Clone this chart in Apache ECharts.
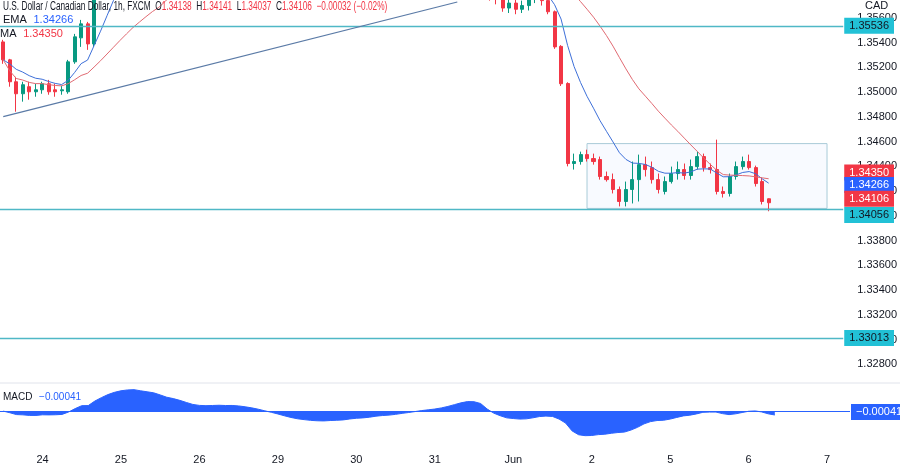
<!DOCTYPE html>
<html>
<head>
<meta charset="utf-8">
<script src="https://cdn.jsdelivr.net/npm/echarts@6/dist/echarts.min.js"></script>
<style>
  html, body { margin: 0; padding: 0; background: #fff; }
  #chart { width: 900px; height: 465px; }
</style>
</head>
<body>
<div id="chart"></div>
<script>
// 2-hour bars, 12 per trading day, first day starts at 12:00
const days = ['23', '24', '25', '26', '29', '30', '31', 'Jun', '2', '5', '6', '7']
const barCount = 130

// visible candles on the left: [open, close, low, high]
const leftBars = [
  [1.35406, 1.35261, 1.35229, 1.35423],
  [1.35261, 1.35084, 1.35044, 1.35269],
  [1.35084, 1.34987, 1.34842, 1.35124],
  [1.34987, 1.35060, 1.34923, 1.35084],
  [1.35044, 1.35003, 1.34939, 1.35084],
  [1.35003, 1.35019, 1.34963, 1.35068],
  [1.35019, 1.35068, 1.34987, 1.35084],
  [1.35068, 1.35003, 1.34979, 1.35099],
  [1.35019, 1.35003, 1.34963, 1.35068],
  [1.35011, 1.35019, 1.34979, 1.35052],
  [1.35003, 1.35245, 1.34987, 1.35261],
  [1.35245, 1.35447, 1.35229, 1.35471],
  [1.35439, 1.35552, 1.35366, 1.35584],
  [1.35552, 1.35390, 1.35342, 1.35568],
  [1.35390, 1.35900, 1.35366, 1.35950]
]

// closes above the visible range (24 May evening - 31 May)
const hiddenCloses = [
  1.3602, 1.3618, 1.3630,
  1.3640, 1.3648, 1.3655, 1.3650, 1.3656, 1.3660, 1.3652, 1.3648, 1.3655, 1.3650, 1.3644, 1.3640,
  1.3646, 1.3652, 1.3658, 1.3662, 1.3660, 1.3665, 1.3662, 1.3658, 1.3654, 1.3648, 1.3640, 1.3635,
  1.3626, 1.3616, 1.3608, 1.3602, 1.3598, 1.3592, 1.3588, 1.3585, 1.3586, 1.3582, 1.3580, 1.3584,
  1.3582, 1.3578, 1.3580, 1.3584, 1.3582, 1.3580, 1.3584, 1.3588, 1.3590, 1.3594, 1.3598, 1.3600,
  1.3604, 1.3612, 1.3622, 1.3634, 1.3644, 1.3650, 1.3644, 1.3630
]

// visible candles on the right: [open, close, low, high]
const rightBars = [
  [1.35900, 1.35850, 1.35800, 1.35950],
  [1.35850, 1.35780, 1.35740, 1.35900],
  [1.35780, 1.35760, 1.35710, 1.35820],
  [1.35760, 1.35680, 1.35650, 1.35800],
  [1.35680, 1.35720, 1.35640, 1.35750],
  [1.35720, 1.35670, 1.35630, 1.35760],
  [1.35670, 1.35700, 1.35640, 1.35740],
  [1.35700, 1.35760, 1.35660, 1.35800],
  [1.35760, 1.35800, 1.35720, 1.35880],
  [1.35800, 1.35740, 1.35700, 1.35840],
  [1.35740, 1.35650, 1.35630, 1.35780],
  [1.35650, 1.35366, 1.35350, 1.35660],
  [1.35370, 1.35068, 1.35050, 1.35380],
  [1.35070, 1.34423, 1.34400, 1.35080],
  [1.34423, 1.34439, 1.34374, 1.34503],
  [1.34439, 1.34495, 1.34414, 1.34519],
  [1.34495, 1.34463, 1.34439, 1.34535],
  [1.34463, 1.34439, 1.34414, 1.34503],
  [1.34455, 1.34318, 1.34293, 1.34479],
  [1.34318, 1.34293, 1.34277, 1.34358],
  [1.34293, 1.34213, 1.34181, 1.34342],
  [1.34213, 1.34116, 1.34076, 1.34237],
  [1.34116, 1.34213, 1.34076, 1.34277],
  [1.34213, 1.34293, 1.34100, 1.34439],
  [1.34293, 1.34414, 1.34116, 1.34495],
  [1.34414, 1.34374, 1.34318, 1.34479],
  [1.34390, 1.34293, 1.34261, 1.34439],
  [1.34293, 1.34213, 1.34181, 1.34342],
  [1.34197, 1.34277, 1.34173, 1.34318],
  [1.34277, 1.34342, 1.34261, 1.34398],
  [1.34342, 1.34374, 1.34293, 1.34439],
  [1.34374, 1.34326, 1.34293, 1.34423],
  [1.34326, 1.34398, 1.34293, 1.34455],
  [1.34398, 1.34479, 1.34374, 1.34519],
  [1.34479, 1.34390, 1.34358, 1.34503],
  [1.34390, 1.34374, 1.34342, 1.34423],
  [1.34374, 1.34197, 1.34173, 1.34616],
  [1.34197, 1.34181, 1.34148, 1.34237],
  [1.34181, 1.34318, 1.34156, 1.34342],
  [1.34318, 1.34398, 1.34293, 1.34439],
  [1.34398, 1.34439, 1.34374, 1.34479],
  [1.34439, 1.34390, 1.34374, 1.34495],
  [1.34390, 1.34261, 1.34237, 1.34406],
  [1.34277, 1.34116, 1.34092, 1.34310],
  [1.34138, 1.34106, 1.34037, 1.34141]
]

const levels = [1.35536, 1.34056, 1.33013]
const lastEma = 1.34266
const lastMa = 1.34350
const lastClose = 1.34106
const lastMacd = -0.00041
const priceTicks = { min: 1.326, max: 1.35745, interval: 0.002 }

const categories = []
for (let i = 0; i < barCount; i++) {
  const k = i + 6
  categories.push(days[Math.floor(k / 12)] + ' ' + String((k % 12) * 2).padStart(2, '0') + ':00')
}

// hidden candles: open at previous close
const hiddenBars = []
let prev = leftBars[leftBars.length - 1][1]
hiddenCloses.forEach(c => {
  hiddenBars.push([prev, c, Math.min(prev, c) - 0.0003, Math.max(prev, c) + 0.0003])
  prev = c
})
const candles = leftBars.concat(hiddenBars, rightBars)
const closes = candles.map(d => d[1])

function ema(arr, n) {
  const k = 2 / (n + 1)
  let e = arr[0]
  return arr.map(v => (e = v * k + e * (1 - k)))
}
function sma(arr, n) {
  return arr.map((v, i) => {
    const s = arr.slice(Math.max(0, i - n + 1), i + 1)
    return s.reduce((a, b) => a + b, 0) / s.length
  })
}
const emaLine = ema(closes, 10)
const maLine = sma(closes, 25)
const fast = ema(closes, 6), slow = ema(closes, 13)
const macd = fast.map((v, i) => v - slow[i])
const mMax = Math.max(...macd), mMin = Math.min(...macd)

const teal = '#4fb8c6'
const font = 'Liberation Sans'

function tagLabel(text, bg, fg, dy) {
  return {
    show: true, position: 'end', distance: 1, formatter: text, offset: [0, dy],
    backgroundColor: bg, color: fg, padding: [3, 5, 2, 5],
    fontSize: 11, fontFamily: font
  }
}
function tag(value, bg, fg, dy) {
  return {
    yAxis: value,
    lineStyle: { color: 'rgba(0,0,0,0)', width: 0 },
    label: tagLabel(value.toFixed(5), bg, fg, dy)
  }
}
const levelShift = [0, 6, 0]

const chart = echarts.init(document.getElementById('chart'), null, { renderer: 'canvas' })

chart.setOption({
  animation: false,
  backgroundColor: '#fff',
  grid: [
    { left: 0, right: 50, top: 0, height: 389 },
    { left: 0, right: 50, top: 384, height: 63 }
  ],
  xAxis: [
    { type: 'category', data: categories, gridIndex: 0, show: false },
    {
      type: 'category', data: categories, gridIndex: 1,
      axisLine: { show: false }, axisTick: { show: false },
      axisLabel: {
        color: '#131722', fontSize: 11, fontFamily: font, margin: 12,
        interval: (i, v) => v.endsWith(' 00:00'),
        formatter: v => v.split(' ')[0]
      }
    }
  ],
  yAxis: [
    {
      type: 'value', gridIndex: 0, position: 'right',
      min: priceTicks.min, max: priceTicks.max, interval: priceTicks.interval,
      splitLine: { show: false }, axisLine: { show: false }, axisTick: { show: false },
      axisLabel: {
        color: '#131722', fontSize: 11, fontFamily: font, margin: 14,
        showMinLabel: false, showMaxLabel: false,
        formatter: v => v.toFixed(5)
      }
    },
    {
      type: 'value', gridIndex: 1, position: 'right',
      min: mMin * 39 / 31, max: mMax * 24 / 19,
      splitLine: { show: false }, axisLine: { show: false }, axisTick: { show: false },
      axisLabel: { show: false }
    }
  ],
  series: [
    {
      type: 'candlestick', data: candles, xAxisIndex: 0, yAxisIndex: 0,
      barWidth: '55%', clip: true,
      itemStyle: { color: '#089981', color0: '#f23645', borderColor: '#089981', borderColor0: '#f23645' },
      markArea: {
        silent: true,
        itemStyle: { color: 'rgba(41,98,255,0.03)', borderColor: '#a9cbd8', borderWidth: 1 },
        data: [[{ coord: [categories[90], 1.34584] }, { coord: [categories[127], 1.3406] }]]
      }
    },
    {
      type: 'line', data: emaLine, xAxisIndex: 0, yAxisIndex: 0, showSymbol: false,
      lineStyle: { color: '#3d6fd8', width: 1 }, clip: true, z: 3,
      markLine: {
        symbol: 'none', silent: true, animation: false, precision: 5,
        data: [
          tag(lastMa, '#f23645', '#fff', 0),
          tag(lastEma, '#2962ff', '#fff', 2),
          tag(lastClose, '#f23645', '#fff', -4),
          ...levels.map((v, i) => ({
            yAxis: v, lineStyle: { color: teal, width: 1.3, type: 'solid' },
            label: tagLabel(v.toFixed(5), '#22c1d6', '#131722', levelShift[i])
          })),
          [
            { coord: [categories[0], 1.34802], lineStyle: { color: '#5a7aa6', width: 1.2, type: 'solid' }, label: { show: false } },
            { coord: [categories[70], 1.35729] }
          ]
        ]
      }
    },
    {
      type: 'line', data: maLine, xAxisIndex: 0, yAxisIndex: 0, showSymbol: false,
      lineStyle: { color: '#e06a72', width: 1 }, clip: true, z: 3
    },
    {
      type: 'line', data: macd, xAxisIndex: 1, yAxisIndex: 1, showSymbol: false,
      lineStyle: { color: '#2962ff', width: 1 }, areaStyle: { color: '#2962ff', opacity: 1 },
      markLine: {
        symbol: 'none', silent: true, precision: 6,
        data: [{
          yAxis: 0, lineStyle: { color: '#2962ff', width: 1, type: 'solid' },
          label: { show: false }
        }, {
          yAxis: lastMacd * 0.3, lineStyle: { color: 'rgba(0,0,0,0)', width: 0 },
          label: tagLabel('−0.00041', '#2962ff', '#fff', 0)
        }]
      }
    }
  ],
  graphic: [
    { type: 'line', shape: { x1: 0, y1: 383, x2: 900, y2: 383 }, style: { stroke: '#e0e3eb', lineWidth: 1 } },
    { type: 'text', left: 865, top: 0, style: { text: 'CAD', fill: '#131722', font: '11px ' + font }, z: 2 },
    {
      type: 'text', x: 3, y: 1, scaleX: 0.69, z: 10,
      style: {
        text: '{b|U.S. Dollar / Canadian Dollar, 1h, FXCM}  {b|O}{r|1.34138}  {b|H}{r|1.34141}  {b|L}{r|1.34037}  {b|C}{r|1.34106}  {r|−0.00032 (−0.02%)}',
        rich: {
          b: { fill: '#131722', font: '12px ' + font },
          r: { fill: '#f23645', font: '12px ' + font }
        }
      }
    },
    {
      type: 'text', left: 3, top: 14, z: 10,
      style: { text: '{b|EMA}  {u|1.34266}', rich: { b: { fill: '#131722', font: '11px ' + font }, u: { fill: '#2962ff', font: '11px ' + font } } }
    },
    {
      type: 'text', left: 0, top: 28, z: 10,
      style: { text: '{b|MA}  {r|1.34350}', rich: { b: { fill: '#131722', font: '11px ' + font }, r: { fill: '#f23645', font: '11px ' + font } } }
    },
    {
      type: 'text', left: 3, top: 391, z: 10,
      style: { text: '{b|MACD}  {u|−0.00041}', rich: { b: { fill: '#131722', font: '10px ' + font }, u: { fill: '#2962ff', font: '10px ' + font } } }
    }
  ]
})
</script>
</body>
</html>
